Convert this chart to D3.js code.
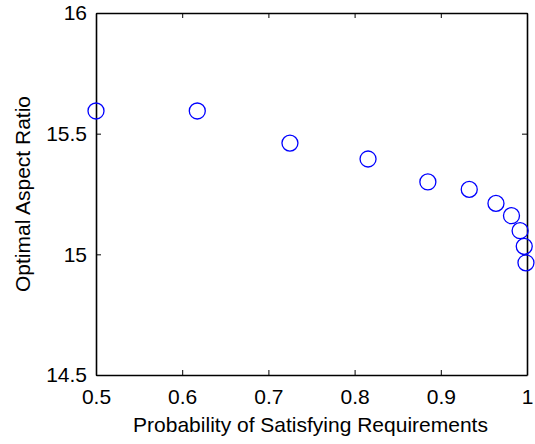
<!DOCTYPE html>
<html><head><meta charset="utf-8">
<script src="https://cdn.jsdelivr.net/npm/d3@7"></script>
<style>body{margin:0;background:#fff}text{font-family:"Liberation Sans",Arial,sans-serif}</style>
</head><body><svg id="c" width="535" height="444"></svg>
<script>
const probability = [0.5, 0.6175, 0.725, 0.8156, 0.885, 0.933, 0.964, 0.982, 0.992, 0.9968, 0.9988];
const aspectRatio = [15.594, 15.594, 15.461, 15.395, 15.300, 15.269, 15.211, 15.160, 15.098, 15.033, 14.965];
const xTicks = [0.5, 0.6, 0.7, 0.8, 0.9, 1];
const yTicks = [14.5, 15, 15.5, 16];
const xLabel = "Probability of Satisfying Requirements";
const yLabel = "Optimal Aspect Ratio";

const svg = d3.select("#c");
const L = 96, R = 527, T = 13, B = 375;
const FS = 21;
const x = d3.scaleLinear().domain([0.5, 1]).range([L, R]);
const y = d3.scaleLinear().domain([14.5, 16]).range([B, T]);
const fmt = d => String(d);

const g = svg.append("g");
const bx = g.append("g").attr("transform", `translate(0,${B})`)
  .call(d3.axisBottom(x).tickValues(xTicks).tickFormat(fmt).tickSizeInner(-5).tickSizeOuter(0).tickPadding(14));
g.append("g").attr("transform", `translate(0,${T})`)
  .call(d3.axisTop(x).tickValues(xTicks).tickFormat("").tickSizeInner(-5).tickSizeOuter(0));
g.append("g").attr("transform", `translate(${L},0)`)
  .call(d3.axisLeft(y).tickValues(yTicks).tickFormat(fmt).tickSizeInner(-5).tickSizeOuter(0).tickPadding(9));
g.append("g").attr("transform", `translate(${R},0)`)
  .call(d3.axisRight(y).tickValues(yTicks).tickFormat("").tickSizeInner(-5).tickSizeOuter(0));

g.selectAll(".domain").attr("stroke", "#000").attr("stroke-width", 1.6);
g.selectAll(".tick line").attr("stroke", "#000").attr("stroke-width", 1);
g.selectAll(".tick text").attr("font-size", FS).attr("fill", "#000")
  .attr("font-family", '"Liberation Sans",Arial,sans-serif');

svg.append("g").selectAll("circle").data(probability).join("circle")
  .attr("cx", (d) => x(d))
  .attr("cy", (d, i) => y(aspectRatio[i]))
  .attr("r", 8)
  .attr("fill", "none")
  .attr("stroke", "#0000ff")
  .attr("stroke-width", 1.3);

svg.append("text").attr("x", (L + R) / 2 - 1).attr("y", 432).attr("text-anchor", "middle")
  .attr("font-size", FS).text(xLabel);
svg.append("text").attr("transform", `translate(30,${(T + B) / 2}) rotate(-90)`)
  .attr("text-anchor", "middle").attr("font-size", FS).text(yLabel);
</script></body></html>
